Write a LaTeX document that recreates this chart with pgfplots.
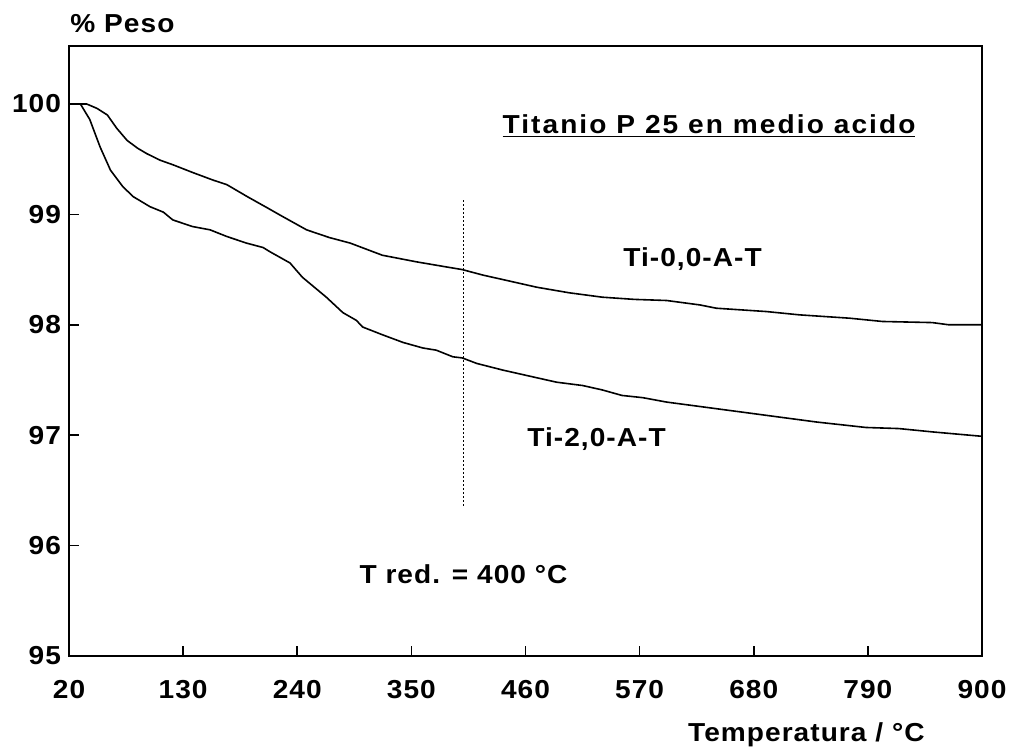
\documentclass[border=0pt]{standalone}
\usepackage{pgfplots}
\pgfplotsset{compat=1.18}
\usepackage{fontspec}
\newfontfamily\pfbase{Liberation Sans Bold}[FakeStretch=1.08,LetterSpace=4]
\newfontfamily\pftitle{Liberation Sans Bold}[FakeStretch=1.08,LetterSpace=8]
\newcommand\pf{\pfbase\fontsize{13}{15}\selectfont}
\begin{document}
\begin{tikzpicture}
\useasboundingbox (-34.5pt,-48pt) rectangle (473pt,328pt);
\begin{axis}[
  at={(0,0)}, anchor=south west,
  scale only axis, width=456.5pt, height=305pt,
  xmin=20, xmax=900, ymin=95, ymax=100.525,
  xtick={20,130,240,350,460,570,680,790,900},
  ytick={95,96,97,98,99,100},
  tick align=inside, major tick length=5pt,
  xtick pos=bottom, ytick pos=left,
  axis line style={line width=1pt},
  tick style={line width=0.8pt, black},
  clip=false,
  /pgf/number format/assume math mode=true,
  ticklabel style={font=\pf},
  xticklabel style={anchor=center, yshift=-17pt},
  yticklabel style={xshift=-0.5pt},
]
\addplot[black, line width=0.8pt] coordinates {
(20,100) (37,100) (47,99.96) (57,99.90) (66,99.78) (76,99.67) (86,99.60) (95,99.55)
(108,99.49) (120,99.45) (139,99.38) (159,99.31) (172,99.27) (192,99.16) (211,99.06)
(226,98.98) (249,98.86) (271,98.79) (291,98.74) (322,98.63) (355,98.57) (380,98.53)
(399,98.50) (419,98.45) (438,98.41) (471,98.34) (502,98.29) (534,98.25) (565,98.23)
(596,98.22) (628,98.18) (644,98.15) (692,98.12) (724,98.09) (772,98.06) (804,98.03)
(852,98.02) (868,98.00) (900,98.00)};
\addplot[black, line width=0.8pt] coordinates {
(20,100) (31,100) (40,99.86) (50,99.61) (60,99.40) (72,99.25) (82,99.16) (98,99.07)
(111,99.02) (120,98.95) (139,98.89) (156,98.86) (172,98.80) (191,98.74) (207,98.70)
(214,98.66) (233,98.56) (245,98.43) (268,98.25) (284,98.11) (297,98.04) (303,97.98)
(322,97.91) (342,97.84) (361,97.79) (374,97.77) (390,97.71) (399,97.70) (413,97.65)
(438,97.59) (471,97.52) (490,97.48) (515,97.45) (534,97.41) (553,97.36) (573,97.34)
(596,97.30) (628,97.26) (676,97.20) (708,97.16) (740,97.12) (788,97.07) (820,97.06)
(852,97.03) (900,96.99)};
\addplot[black, line width=0.7pt, dash pattern=on 0.8pt off 1.2pt] coordinates {(400,99.13) (400,96.35)};
\end{axis}
\node[font=\pf, anchor=base west, inner sep=0pt] at (0.5pt,312pt) {\% Peso};
\node[font=\pftitle\fontsize{13}{15}\selectfont, anchor=base, inner sep=0pt] at (320pt,261.5pt) {\underline{Titanio P 25 en medio acido}};
\node[font=\pf, anchor=base, inner sep=0pt] at (311.75pt,195pt) {Ti-0,0-A-T};
\node[font=\pf, anchor=base, inner sep=0pt] at (263.75pt,105pt) {Ti-2,0-A-T};
\node[font=\pf, anchor=base, inner sep=0pt] at (197.25pt,36.5pt) {T red. = 400 °C};
\node[font=\pf, anchor=base east, inner sep=0pt] at (428pt,-42.5pt) {Temperatura / °C};
\end{tikzpicture}
\end{document}
